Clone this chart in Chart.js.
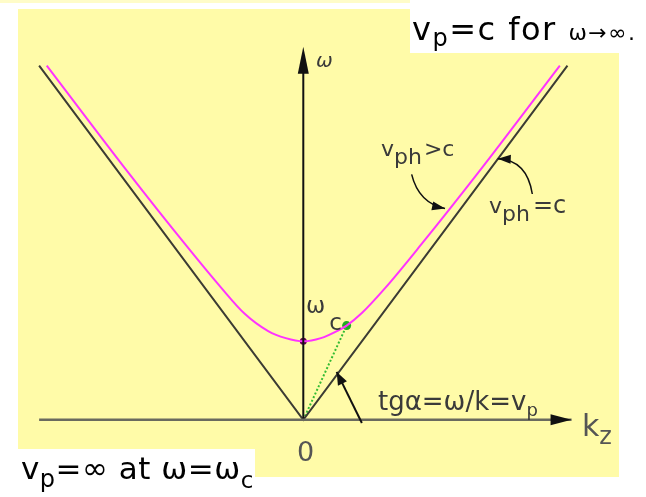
<!DOCTYPE html>
<html>
<head>
<meta charset="utf-8">
<script src="https://cdn.jsdelivr.net/npm/chart.js@4"></script>
<style>
  html, body { margin: 0; padding: 0; background: #fff; }
  #wrap { width: 646px; height: 497px; }
</style>
</head>
<body>
<div id="wrap"><canvas id="disp"></canvas></div>
<script>
// units: omega in omega_c, k in omega_c / c
const kLight = [-4.51, 0, 4.51];
const wLight = [4.51, 0, 4.51];

// dispersion branch of the waveguide mode
const kWave = [-4.38, -3.0, -2.0, -1.4, -1.0, -0.6, -0.3, 0, 0.3, 0.6, 0.74, 1.0, 1.4, 2.0, 3.0, 4.38];
const wWave = [4.51, 3.16, 2.22, 1.68, 1.35, 1.13, 1.04, 1.0, 1.04, 1.14, 1.2, 1.36, 1.68, 2.22, 3.16, 4.51];

const kAxis = [-4.51, 4.58];
const wAxisTop = 4.75;

const cutoff = { k: 0, w: 1.0 };
const sample = { k: 0.74, w: 1.2 };

const pts = (ks, ws) => ks.map((k, i) => ({ x: k, y: ws[i] }));

function arrowHead(ctx, x1, y1, x2, y2, len, half) {
  const a = Math.atan2(y2 - y1, x2 - x1);
  ctx.beginPath();
  ctx.moveTo(x2, y2);
  ctx.lineTo(x2 - len * Math.cos(a) + half * Math.sin(a), y2 - len * Math.sin(a) - half * Math.cos(a));
  ctx.lineTo(x2 - len * Math.cos(a) - half * Math.sin(a), y2 - len * Math.sin(a) + half * Math.cos(a));
  ctx.closePath();
  ctx.fill();
}

// text in runs: [text, size, dx, dy, style]
function runs(ctx, x, y, parts, color, spacing) {
  ctx.fillStyle = color;
  ctx.textBaseline = 'alphabetic';
  ctx.textAlign = 'left';
  ctx.letterSpacing = spacing || '0px';
  let cx = x;
  parts.forEach(p => {
    ctx.font = (p[4] || '') + ' ' + p[1] + 'px "DejaVu Sans"';
    cx += p[2] || 0;
    ctx.fillText(p[0], cx, y + (p[3] || 0));
    cx += ctx.measureText(p[0]).width;
  });
  ctx.letterSpacing = '0px';
}

const decor = {
  id: 'decor',
  beforeDraw(chart) {
    const ctx = chart.ctx;
    ctx.save();
    ctx.fillStyle = '#ffffff';
    ctx.fillRect(0, 0, chart.width, chart.height);
    ctx.fillStyle = '#fffcc8';
    ctx.fillRect(0, 0, chart.width, 3);
    ctx.fillStyle = '#fffba8';
    ctx.fillRect(18, 9, 601, 468);
    ctx.fillStyle = '#ffffff';
    ctx.fillRect(410, 0, 236, 53);
    ctx.fillRect(0, 449, 255, 48);
    ctx.restore();
  },
  afterDatasetsDraw(chart) {
    const ctx = chart.ctx;
    const X = v => chart.scales.x.getPixelForValue(v);
    const Y = v => chart.scales.y.getPixelForValue(v);
    ctx.save();

    // axis arrowheads
    ctx.fillStyle = '#111';
    arrowHead(ctx, X(kAxis[0]), Y(0), X(kAxis[1]), Y(0), 21, 5.5);
    arrowHead(ctx, X(0), Y(0), X(0), Y(wAxisTop), 27, 5.5);

    // pointers
    ctx.strokeStyle = '#111';
    ctx.lineWidth = 2;
    ctx.beginPath();
    ctx.moveTo(X(1.0), Y(-0.04));
    ctx.lineTo(X(0.57), Y(0.61));
    ctx.stroke();
    arrowHead(ctx, X(1.0), Y(-0.04), X(0.57), Y(0.61), 13, 5);

    ctx.lineWidth = 1.5;
    ctx.beginPath();
    ctx.moveTo(X(1.85), Y(3.125));
    ctx.quadraticCurveTo(X(1.97), Y(2.76), X(2.42), Y(2.69));
    ctx.stroke();
    arrowHead(ctx, X(1.97), Y(2.76), X(2.42), Y(2.69), 13, 4.5);

    ctx.beginPath();
    ctx.moveTo(X(3.91), Y(2.875));
    ctx.quadraticCurveTo(X(3.82), Y(3.31), X(3.32), Y(3.325));
    ctx.stroke();
    arrowHead(ctx, X(3.82), Y(3.31), X(3.32), Y(3.325), 13, 4.5);

    // labels
    const grey = '#3a3a3a';
    runs(ctx, 316, 67, [['ω', 20, 0, 0, 'italic']], grey);
    runs(ctx, 297, 461, [['0', 27]], '#555');
    runs(ctx, 582, 436, [['k', 30], ['z', 24, 0, 8]], '#555');
    runs(ctx, 378, 410, [['tgα=ω/k=v', 26], ['p', 18, 0, 6]], grey);
    runs(ctx, 306, 313, [['ω', 23], ['c', 23, 4, 17]], grey);
    runs(ctx, 381, 156, [['v', 22], ['ph', 22, 0, 8], ['>c', 22, 2]], grey);
    runs(ctx, 489, 213, [['v', 22], ['ph', 22, 0, 8], ['=c', 24, 3]], grey);

    runs(ctx, 412, 40, [['v', 32], ['p', 24, 0, 6], ['=c for ', 32], ['ω→∞.', 22]], '#000', '1.5px');
    runs(ctx, 21, 479, [['v', 31], ['p', 24, 0, 8], ['=∞ at ω=ω', 31], ['c', 23, 0, 9]], '#000', '0.5px');

    ctx.restore();
  }
};

new Chart(document.getElementById('disp'), {
  type: 'scatter',
  data: {
    datasets: [
      { data: pts(kAxis, [0, 0]), showLine: true, borderColor: '#6a6a5e', borderWidth: 2.5, pointRadius: 0 },
      { data: pts([0, 0], [0, wAxisTop - 0.2]), showLine: true, borderColor: '#111', borderWidth: 2, pointRadius: 0 },
      { data: pts(kLight, wLight), showLine: true, borderColor: '#3c3c34', borderWidth: 2, pointRadius: 0 },
      { data: pts(kWave, wWave), showLine: true, borderColor: '#ff33ff', borderWidth: 2,
        cubicInterpolationMode: 'monotone', pointRadius: 0 },
      { data: pts([0, sample.k], [0, sample.w]), showLine: true, borderColor: '#33bb33', borderWidth: 2,
        borderDash: [2, 2], pointRadius: 0 },
      { data: [{ x: sample.k, y: sample.w }], pointRadius: 4.5, pointBackgroundColor: '#22aa22', pointBorderWidth: 0 },
      { data: [{ x: cutoff.k, y: cutoff.w }], pointRadius: 3.5, pointBackgroundColor: '#660055', pointBorderWidth: 0 }
    ]
  },
  options: {
    responsive: true,
    maintainAspectRatio: false,
    animation: false,
    layout: { padding: 0 },
    plugins: { legend: { display: false }, tooltip: { enabled: false } },
    scales: {
      x: { type: 'linear', display: false, min: -5.101, max: 5.774 },
      y: { type: 'linear', display: false, min: -0.925, max: 5.2875 }
    }
  },
  plugins: [decor]
});
</script>
</body>
</html>
